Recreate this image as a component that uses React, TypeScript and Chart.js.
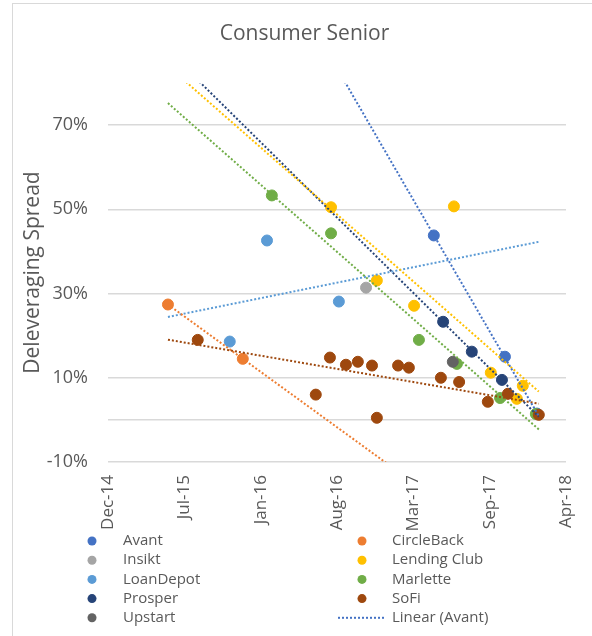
import React, { useEffect, useRef } from 'react';
import { Chart, registerables } from 'chart.js';

Chart.register(...registerables);

// ---------- data ----------
const CHART_TITLE = 'Consumer Senior';
const Y_TITLE = 'Deleveraging Spread';

const SERIES_NAMES = ['Avant', 'CircleBack', 'Insikt', 'Lending Club', 'LoanDepot', 'Marlette', 'Prosper', 'SoFi', 'Upstart'];
const SERIES_COLORS = ['#4472C4', '#ED7D31', '#A5A5A5', '#FFC000', '#5B9BD5', '#70AD47', '#264478', '#9E480E', '#636363'];

const avantDates = ['2017-05-02', '2017-11-09', '2018-02-03'];
const avantValues = [43.8, 15.0, 1.5];

const circleBackDates = ['2015-05-19', '2015-12-06'];
const circleBackValues = [27.4, 14.5];

const insiktDates = ['2016-11-01'];
const insiktValues = [31.4];

const lendingClubDates = ['2016-07-30', '2016-11-30', '2017-03-10', '2017-06-25', '2017-10-02', '2017-12-11', '2017-12-27'];
const lendingClubValues = [50.5, 33.1, 27.1, 50.7, 11.2, 5.0, 8.1];

const loanDepotDates = ['2015-11-01', '2016-02-09', '2016-08-20'];
const loanDepotValues = [18.6, 42.6, 28.1];

const marletteDates = ['2016-02-22', '2016-07-30', '2017-03-23', '2017-07-03', '2017-10-27', '2018-01-31'];
const marletteValues = [53.3, 44.3, 19.0, 13.3, 5.2, 1.4];

const prosperDates = ['2017-05-27', '2017-08-12', '2017-11-01'];
const prosperValues = [23.3, 16.2, 9.5];

const soFiDates = ['2015-08-07', '2016-06-19', '2016-07-27', '2016-09-08', '2016-10-10', '2016-11-17', '2016-11-30', '2017-01-26', '2017-02-24', '2017-05-21', '2017-07-09', '2017-09-24', '2017-11-17', '2018-02-08'];
const soFiValues = [19.0, 6.0, 14.8, 13.1, 13.8, 12.9, 0.5, 12.9, 12.4, 10.0, 9.0, 4.3, 6.2, 1.2];

const upstartDates = ['2017-06-22'];
const upstartValues = [13.8];

const SERIES_DATES = [avantDates, circleBackDates, insiktDates, lendingClubDates, loanDepotDates, marletteDates, prosperDates, soFiDates, upstartDates];
const SERIES_VALUES = [avantValues, circleBackValues, insiktValues, lendingClubValues, loanDepotValues, marletteValues, prosperValues, soFiValues, upstartValues];

const X_AXIS_START = '2014-12-09';
const X_AXIS_STEP_DAYS = 205;
const X_TICK_LABELS = ['Dec-14', 'Jul-15', 'Jan-16', 'Aug-16', 'Mar-17', 'Sep-17', 'Apr-18'];

const Y_MIN = -10;
const Y_MAX = 80;
const Y_TICKS = [-10, 10, 30, 50, 70];
const Y_AXIS_LINE = 0;

const TRENDLINE_LEGEND = 'Linear (Avant)';

// ---------- helpers ----------
const toDay = (s: string) => Date.parse(s + 'T00:00:00Z') / 864e5;

function regression(xs: number[], ys: number[]) {
  const n = xs.length;
  const mx = xs.reduce((a, b) => a + b, 0) / n;
  const my = ys.reduce((a, b) => a + b, 0) / n;
  let sxy = 0, sxx = 0;
  for (let i = 0; i < n; i++) {
    sxy += (xs[i] - mx) * (ys[i] - my);
    sxx += (xs[i] - mx) * (xs[i] - mx);
  }
  const slope = sxy / sxx;
  return { slope, intercept: my - slope * mx };
}

const TEXT_COLOR = '#595959';
const GRID_COLOR = '#D9D9D9';
const FONT = '"Open Sans", sans-serif';

const titlePlugin = {
  id: 'customTitle',
  afterDraw(chart: any) {
    const ctx = chart.ctx;
    ctx.save();
    ctx.font = `21px ${FONT}`;
    ctx.fillStyle = TEXT_COLOR;
    ctx.textAlign = 'center';
    ctx.textBaseline = 'middle';
    ctx.fillText(CHART_TITLE, 304.5, 34);
    ctx.restore();
  },
};

const legendPlugin = {
  id: 'gridLegend',
  afterDraw(chart: any) {
    const ctx = chart.ctx;
    ctx.save();
    ctx.font = `15px ${FONT}`;
    ctx.textBaseline = 'middle';
    ctx.textAlign = 'left';
    const items = [
      ...SERIES_NAMES.map((n, i) => ({ text: n, color: SERIES_COLORS[i], kind: 'dot' })),
      { text: TRENDLINE_LEGEND, color: SERIES_COLORS[0], kind: 'line' },
    ];
    items.forEach((it, i) => {
      const col = i % 2;
      const row = Math.floor(i / 2);
      const mx = col === 0 ? 92 : 362;
      const tx = col === 0 ? 123 : 392;
      const y = 541 + row * 19.2;
      if (it.kind === 'dot') {
        ctx.beginPath();
        ctx.fillStyle = it.color;
        ctx.arc(mx, y, 4.5, 0, Math.PI * 2);
        ctx.fill();
      } else {
        ctx.beginPath();
        ctx.strokeStyle = it.color;
        ctx.lineWidth = 2;
        ctx.setLineDash([2, 2]);
        ctx.moveTo(338, y);
        ctx.lineTo(384, y);
        ctx.stroke();
        ctx.setLineDash([]);
      }
      ctx.fillStyle = TEXT_COLOR;
      ctx.fillText(it.text, tx, y);
    });
    ctx.restore();
  },
};

export default function App() {
  const canvasRef = useRef<HTMLCanvasElement | null>(null);

  useEffect(() => {
    if (!canvasRef.current) return;
    const allDays = SERIES_DATES.flat().map(toDay);
    const xLo = Math.min(...allDays);
    const xHi = Math.max(...allDays);

    const pointSets: any[] = SERIES_NAMES.map((name, i) => ({
      label: name,
      data: SERIES_DATES[i].map((d, j) => ({ x: toDay(d), y: SERIES_VALUES[i][j] })),
      backgroundColor: SERIES_COLORS[i],
      borderColor: SERIES_COLORS[i],
      borderWidth: 1,
      pointRadius: 5.5,
      showLine: false,
      order: 100 - i,
    }));

    const trendSets: any[] = [];
    SERIES_NAMES.forEach((name, i) => {
      if (SERIES_DATES[i].length < 2) return;
      const xs = SERIES_DATES[i].map(toDay);
      const { slope, intercept } = regression(xs, SERIES_VALUES[i]);
      trendSets.push({
        label: `Linear (${name})`,
        data: [
          { x: xLo, y: intercept + slope * xLo },
          { x: xHi, y: intercept + slope * xHi },
        ],
        borderColor: SERIES_COLORS[i],
        backgroundColor: SERIES_COLORS[i],
        borderWidth: 2,
        borderDash: [2, 2],
        pointRadius: 0,
        showLine: true,
        order: 0,
      });
    });

    const xStart = toDay(X_AXIS_START);

    const chart = new Chart(canvasRef.current, {
      type: 'scatter',
      data: { datasets: [...pointSets, ...trendSets] },
      options: {
        responsive: false,
        animation: false,
        layout: { padding: { left: 0, right: 26, top: 83, bottom: 0 } },
        plugins: {
          legend: { display: false },
          tooltip: { enabled: false },
          title: { display: false },
        },
        scales: {
          x: {
            type: 'linear',
            min: xStart,
            max: xStart + X_AXIS_STEP_DAYS * (X_TICK_LABELS.length - 1),
            afterBuildTicks: (scale: any) => {
              scale.ticks = X_TICK_LABELS.map((_, k) => ({ value: xStart + k * X_AXIS_STEP_DAYS }));
            },
            afterFit: (scale: any) => {
              scale.height = 174;
              scale.paddingLeft = 0;
              scale.paddingRight = 0;
            },
            grid: { display: false, drawTicks: false },
            border: { display: false },
            ticks: {
              autoSkip: false,
              minRotation: 90,
              maxRotation: 90,
              padding: 13,
              color: TEXT_COLOR,
              font: { family: FONT, size: 17 },
              callback: (_v: any, i: number) => X_TICK_LABELS[i],
            },
          },
          y: {
            type: 'linear',
            min: Y_MIN,
            max: Y_MAX,
            afterBuildTicks: (scale: any) => {
              scale.ticks = [...Y_TICKS, Y_AXIS_LINE].sort((a, b) => a - b).map((v) => ({ value: v }));
            },
            afterFit: (scale: any) => {
              scale.width = 108;
              scale.paddingTop = 0;
              scale.paddingBottom = 0;
            },
            grid: { color: GRID_COLOR, lineWidth: 1.5, drawTicks: false },
            border: { display: false },
            title: {
              display: true,
              text: Y_TITLE,
              color: TEXT_COLOR,
              font: { family: FONT, size: 21 },
              padding: { top: 20, bottom: 0 },
            },
            ticks: {
              padding: 20,
              color: TEXT_COLOR,
              font: { family: FONT, size: 18 },
              callback: (v: any) => (Y_TICKS.includes(v) ? `${v}%` : ''),
            },
          },
        },
      },
      plugins: [titlePlugin, legendPlugin],
    });
    return () => chart.destroy();
  }, []);

  return (
    <div style={{ position: 'fixed', left: 0, top: 0, width: 592, height: 636, overflow: 'hidden', background: '#fff' }}>
      <div style={{ position: 'absolute', left: 12, top: 3, width: 600, height: 660, border: '1px solid #D9D9D9' }} />
      <canvas ref={canvasRef} width={592} height={636} style={{ position: 'absolute', left: 0, top: 0 }} />
    </div>
  );
}
